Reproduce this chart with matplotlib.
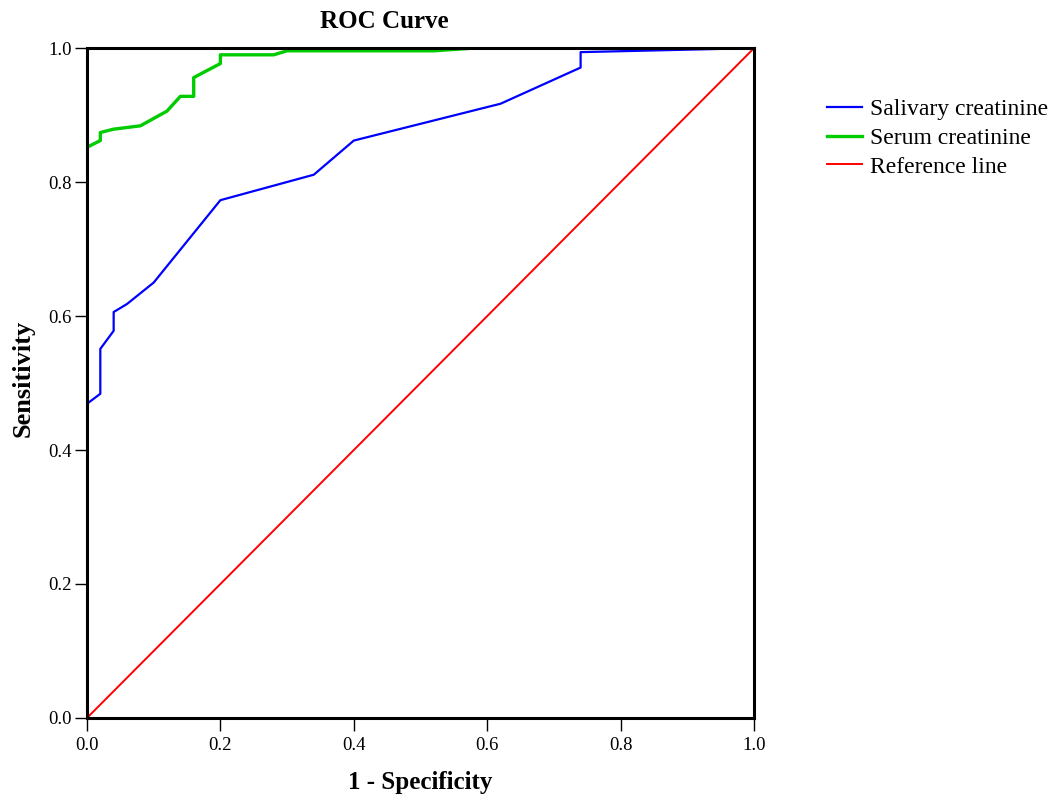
import numpy as np
import matplotlib.pyplot as plt

plt.rcParams['font.family'] = ['Liberation Serif', 'DejaVu Serif']

# ROC points
sal_fpr = [0.0, 0.02, 0.02, 0.04, 0.04, 0.06, 0.10, 0.20, 0.34, 0.40, 0.62, 0.74, 0.74, 1.0]
sal_tpr = [0.469, 0.484, 0.551, 0.578, 0.606, 0.618, 0.650, 0.773, 0.811, 0.862, 0.917, 0.971, 0.994, 1.0]

ser_fpr = [0.0, 0.02, 0.02, 0.04, 0.08, 0.12, 0.14, 0.16, 0.16, 0.20, 0.20, 0.28, 0.30, 0.52, 0.58, 1.0]
ser_tpr = [0.852, 0.862, 0.874, 0.879, 0.884, 0.906, 0.928, 0.928, 0.956, 0.977, 0.990, 0.990, 0.996, 0.996, 1.0, 1.0]

ref_x = [0.0, 1.0]
ref_y = [0.0, 1.0]

ticks = [0.0, 0.2, 0.4, 0.6, 0.8, 1.0]
tick_labels = ['0.0', '0.2', '0.4', '0.6', '0.8', '1.0']

fig = plt.figure(figsize=(10.53, 7.98), dpi=100)
ax = fig.add_axes([0.0826, 0.1003, 0.6335, 0.8394])

ax.plot(sal_fpr, sal_tpr, color='#0000ff', lw=1.6, label='Salivary creatinine')
ax.plot(ser_fpr, ser_tpr, color='#00cc00', lw=2.4, label='Serum creatinine')
ax.plot(ref_x, ref_y, color='#ff0000', lw=1.4, label='Reference line')

ax.set_xlim(0, 1)
ax.set_ylim(0, 1)
ax.set_xticks(ticks)
ax.set_yticks(ticks)
ax.set_xticklabels(tick_labels)
ax.set_yticklabels(tick_labels)
ax.tick_params(direction='out', length=9, width=1.0, labelsize=13.5, pad=2)
ax.tick_params(axis='x', pad=5)
for s in ax.spines.values():
    s.set_linewidth(2.2)
    s.set_color('black')

fig.text(384 / 1053, 1 - 22 / 798, 'ROC Curve', fontsize=18, fontweight='bold',
         ha='center', va='center')
ax.set_xlabel('1 - Specificity', fontsize=18, fontweight='bold', labelpad=12)
ax.set_ylabel('Sensitivity', fontsize=19, fontweight='bold')
ax.yaxis.set_label_coords(-0.079, 0.507)

fig.legend(loc='upper left', bbox_to_anchor=(0.785, 0.876), frameon=False,
           fontsize=17, handlelength=1.5, handletextpad=0.35, labelspacing=0.3,
           borderaxespad=0, borderpad=0)

fig.savefig('out.png', dpi=100)
